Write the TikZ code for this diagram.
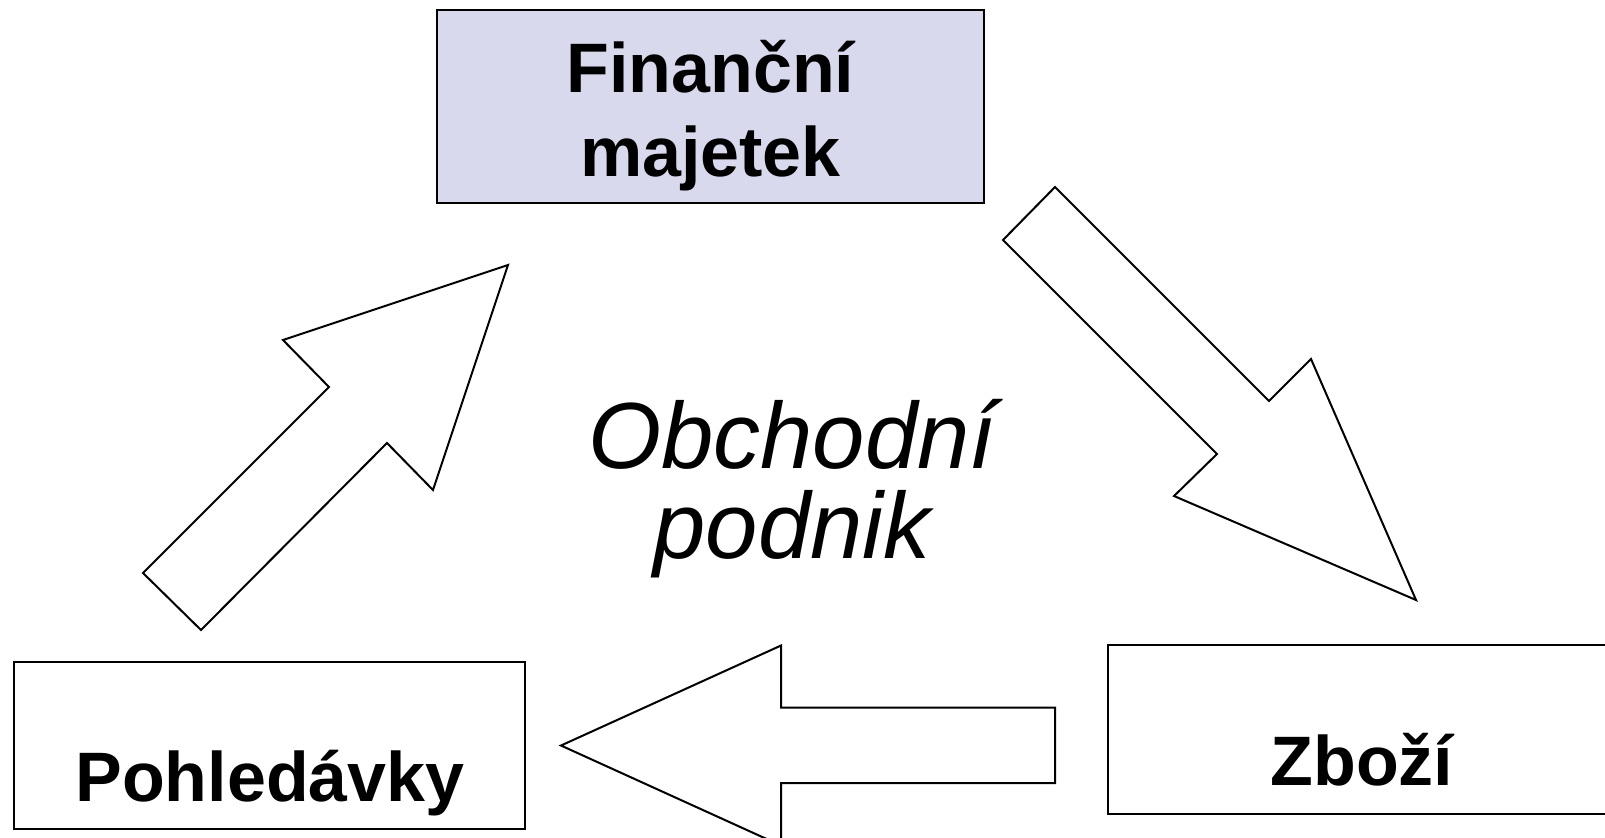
\documentclass[tikz,border=0pt]{standalone}
\usepackage{fontspec}
\setmainfont{Liberation Sans}
\definecolor{fialova}{RGB}{217,217,237}
\tikzset{
    krabice/.style={draw=black, line width=1.4pt, inner sep=0pt},
    popis/.style={font=\bfseries\fontsize{35}{42}\selectfont, align=center},
    sipka/.style={draw=black, line width=1pt, fill=white, line join=miter}}

\begin{document}
\begin{tikzpicture}[x=0.5pt, y=-0.5pt]

            \useasboundingbox (0,0) rectangle (1605,837);

            \node[krabice, fill=fialova, minimum width=273.5pt, minimum height=96.5pt] (F) at (710.5,106.5) {};
            \node[krabice, minimum width=255.5pt, minimum height=83.5pt] (P) at (269.5,745.5) {};
            \node[krabice, minimum width=253.5pt, minimum height=84.5pt] (Z) at (1361.5,729.5) {};

            \node[popis, anchor=base] (Ftext) at (710.5,176) {Finanční\\majetek};
            \node[popis, anchor=base] (Ptext) at (270,801) {Pohledávky};
            \node[popis, anchor=base] (Ztext) at (1362,785) {Zboží};
            \node[font=\itshape\fontsize{47}{45}\selectfont, align=center, anchor=base] (O) at (792,558) {Obchodní\\podnik};

            \draw[sipka] (1003,240) -- (1055,187) -- (1269,401) -- (1311,359) -- (1416,600) -- (1174,496) -- (1217,454) -- cycle;
            \draw[sipka] (1055,707.5) -- (781,707.5) -- (781,645.5) -- (561,745.5) -- (781,845.5) -- (781,783) -- (1055,783) -- cycle;
            \draw[sipka] (201,630) -- (387,443) -- (433,490) -- (508,265) -- (283,340) -- (329,387) -- (143,573) -- cycle;

        \end{tikzpicture}
\end{document}
